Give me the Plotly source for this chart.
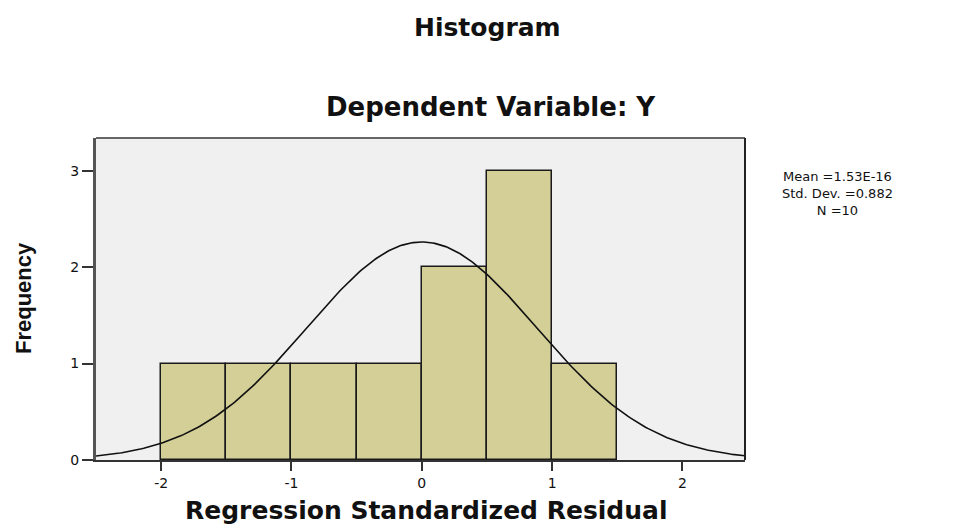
import numpy as np
import plotly.graph_objects as go

bin_edges = [-2.0, -1.5, -1.0, -0.5, 0.0, 0.5, 1.0, 1.5]
counts = [1, 1, 1, 1, 2, 3, 1]
mean_val = 1.53e-16
sd_val = 0.882
n_val = 10
x_ticks = [-2, -1, 0, 1, 2]
y_ticks = [0, 1, 2, 3]
stats_lines = ["Mean =1.53E-16", "Std. Dev. =0.882", "N =10"]

centers = [(a + b) / 2 for a, b in zip(bin_edges[:-1], bin_edges[1:])]
widths = [b - a for a, b in zip(bin_edges[:-1], bin_edges[1:])]
bw = widths[0]

xc = np.linspace(-2.5, 2.5, 301)
yc = n_val * bw / (sd_val * np.sqrt(2 * np.pi)) * np.exp(-0.5 * ((xc - mean_val) / sd_val) ** 2)

W, H = 957, 526
pl, pr_edge, pt, pb_edge = 96, 745, 138, 460
ml, mr, mt, mb = pl, W - pr_edge, pt, H - pb_edge
pw, ph = pr_edge - pl, pb_edge - pt

def fx(sx):
    return (sx - pl) / pw

def fy(sy):
    return (pb_edge - sy) / ph

fig = go.Figure()
fig.add_trace(go.Bar(x=centers, y=counts, width=widths,
                     marker=dict(color="#d3cf97", line=dict(color="#1a1a1a", width=1.5)),
                     showlegend=False, hoverinfo="skip"))
fig.add_trace(go.Scatter(x=xc, y=yc, mode="lines", line=dict(color="#111111", width=1.6),
                         showlegend=False, hoverinfo="skip"))

anns = [
    dict(text="<b>Histogram</b>", x=fx(487), y=fy(28), font=dict(size=25, family="DejaVu Sans")),
    dict(text="<b>Dependent Variable: Y</b>", x=fx(491), y=fy(107), font=dict(size=26, family="DejaVu Sans")),
    dict(text="<b>Regression Standardized Residual</b>", x=fx(426), y=fy(510),
         font=dict(size=25, family="DejaVu Sans")),
    dict(text="<b>Frequency</b>", x=fx(23), y=fy(298), textangle=-90,
         font=dict(size=22, family="Liberation Sans Narrow, Liberation Sans")),
    dict(text="<br>".join(stats_lines), x=fx(837), y=fy(193),
         font=dict(size=13, family="DejaVu Sans")),
]
for a in anns:
    a.update(xref="paper", yref="paper", showarrow=False, xanchor="center", yanchor="middle")

fig.update_layout(
    width=W, height=H,
    margin=dict(l=ml, r=mr, t=mt, b=mb),
    paper_bgcolor="white", plot_bgcolor="#f0f0f0",
    font=dict(family="DejaVu Sans, Arial, sans-serif", color="#111111", size=14),
    bargap=0,
    xaxis=dict(range=[-2.5, 2.48], tickvals=x_ticks, ticktext=[str(v) for v in x_ticks],
               ticks="outside", ticklen=9, tickwidth=1.5, tickcolor="#333",
               showgrid=False, zeroline=False, showline=True, linecolor="#333", linewidth=2,
               tickfont=dict(size=14)),
    yaxis=dict(range=[0, 3.34], tickvals=y_ticks, ticktext=[str(v) for v in y_ticks],
               ticks="outside", ticklen=11, tickwidth=1.5, tickcolor="#333",
               showgrid=False, zeroline=False, showline=True, linecolor="#555", linewidth=3,
               tickfont=dict(size=14)),
    shapes=[
        dict(type="line", xref="paper", yref="paper", x0=0, x1=1, y0=1, y1=1,
             line=dict(color="#666", width=2)),
        dict(type="line", xref="paper", yref="paper", x0=1, x1=1, y0=0, y1=1,
             line=dict(color="#222", width=2)),
    ],
    annotations=anns,
)

fig.write_html("out.html", config={"displayModeBar": False},
               post_script="document.body.style.margin='0px';")
